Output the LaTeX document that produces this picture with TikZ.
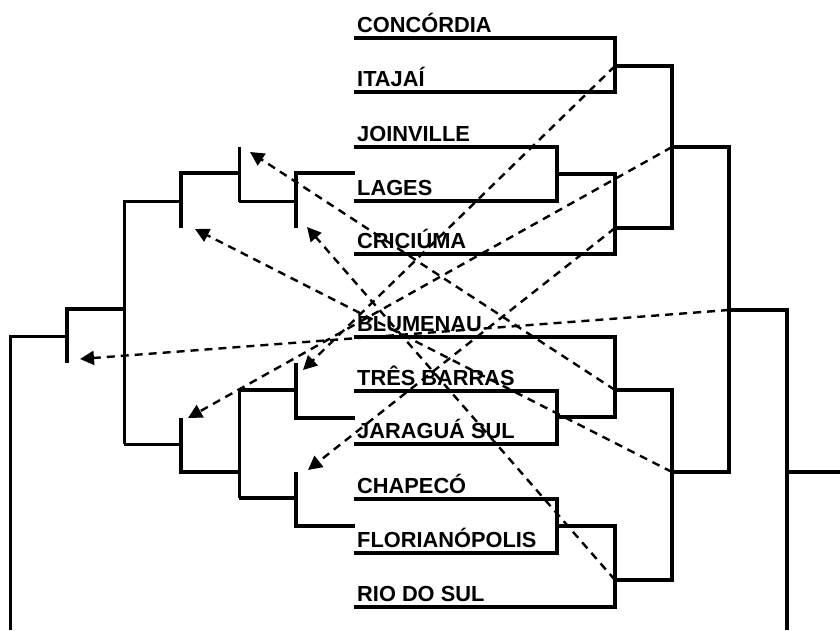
\documentclass[tikz,border=0pt]{standalone}
\usepackage{fontspec}
\setmainfont{Liberation Sans}
\usetikzlibrary{arrows.meta}
\tikzset{
	team/.style={anchor=base west, inner sep=0pt, font=\fontsize{21.8}{26}\selectfont\bfseries},
	bar/.style={line width=3.2pt, color=black},
	link/.style={line width=3pt, color=black},
	guess/.style={line width=2.4pt, dash pattern=on 8pt off 6pt, -{Triangle[length=14pt,width=14pt]}}
}

\begin{document}
\begin{tikzpicture}[x=1pt,y=-1pt]
		%%%%% START %%%%%
		\useasboundingbox (0,0) rectangle (840,630);
		
		\node[team] (concordia) at (357,32) {CONCÓRDIA};
		\node[team] (itajai) at (357,86) {ITAJAÍ};
		\node[team] (joinville) at (357,141) {JOINVILLE};
		\node[team] (lages) at (357,195) {LAGES};
		\node[team] (criciuma) at (357,248) {CRICIÚMA};
		\node[team] (blumenau) at (357,331) {BLUMENAU};
		\node[team] (tresbarras) at (357,385) {TRÊS BARRAS};
		\node[team] (jaragua) at (357,438) {JARAGUÁ SUL};
		\node[team] (chapeco) at (357,493) {CHAPECÓ};
		\node[team] (floripa) at (357,547) {FLORIANÓPOLIS};
		\node[team] (riodosul) at (357,601) {RIO DO SUL};
		
		%% right side
		\draw[bar] (354,38) -| (615,92) -- (354,92);
		\draw[bar] (354,147) -| (557,201) -- (354,201);
		\draw[bar] (557,174) -| (615,254) -- (354,254);
		\draw[bar] (615,66) -| (672,228) -- (615,228);
		\draw[bar] (672,147) -| (729,472) -- (672,472);
		
		\draw[bar] (354,391) -| (557,444) -- (354,444);
		\draw[bar] (354,337) -| (615,417) -- (557,417);
		\draw[bar] (615,390) -| (672,580) -- (615,580);
		\draw[bar] (354,499) -| (557,553) -- (354,553);
		\draw[bar] (557,526) -| (615,607) -- (354,607);
		
		\draw[bar] (729,310) -| (787,630);
		\draw[bar] (787,472) -- (840,472);
		
		%% left side
		\draw[link] (239,147) -- (239,202);
		\draw[link] (239,201) -- (296,201);
		\draw[bar] (296,228) -- (296,173) -- (355,173);
		\draw[bar] (239,173) -| (181,228);
		\draw[link] (181,201) -| (124,444);
		\draw[link] (124,444) -- (181,444);
		\draw[bar] (124,309) -| (67,363);
		\draw[link] (67,336) -| (10,630);
		
		\draw[bar] (181,418) -- (181,472) -- (239,472);
		\draw[link] (239,390) -- (239,498);
		\draw[bar] (296,390) -- (239,390);
		\draw[bar] (239,498) -- (296,498);
		\draw[bar] (296,363) -- (296,418) -- (355,418);
		\draw[bar] (296,472) -- (296,526) -- (355,526);
		
		%% dashed arrows
		\coordinate (r1) at (615,66);
		\coordinate (r2) at (672,147);
		\coordinate (r3) at (615,228);
		\coordinate (r4) at (729,310);
		\coordinate (r5) at (615,390);
		\coordinate (r6) at (672,472);
		\coordinate (r7) at (615,580);
		
		\coordinate (l1) at (303,370);
		\coordinate (l2) at (188,418);
		\coordinate (l3) at (308,470);
		\coordinate (l4) at (80,359);
		\coordinate (l5) at (250,152);
		\coordinate (l6) at (195,229);
		\coordinate (l7) at (307,227);
		
		\draw[guess] (r1) -- (l1);
		\draw[guess] (r2) -- (l2);
		\draw[guess] (r3) -- (l3);
		\draw[guess] (r4) -- (l4);
		\draw[guess] (r5) -- (l5);
		\draw[guess] (r6) -- (l6);
		\draw[guess] (r7) -- (l7);
		
		%%%%% END %%%%%
\end{tikzpicture}
\end{document}
